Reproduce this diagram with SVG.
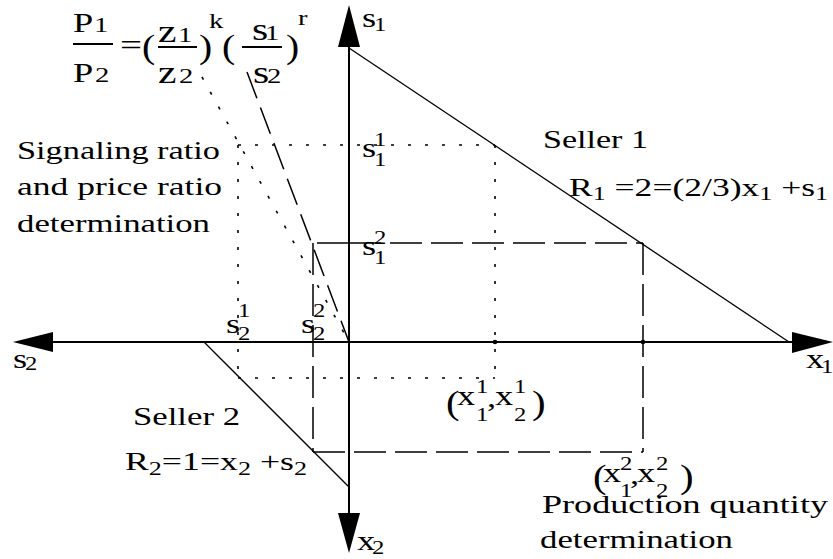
<svg xmlns="http://www.w3.org/2000/svg" width="833" height="559" viewBox="0 0 833 559">
<g id="connectors">
  <g stroke="#000" stroke-width="2" fill="none">
    <line x1="20" y1="342" x2="826" y2="342"/>
    <line x1="349" y1="12" x2="349" y2="548"/>
  </g>
  <g fill="#000">
    <polygon points="349,5 338,47 360,47"/>
    <polygon points="349,553 338,513 360,513"/>
    <polygon points="13,342 53,332 53,352"/>
    <polygon points="833,342 792,332 792,353"/>
    <circle cx="495" cy="342" r="2.3"/>
    <circle cx="643" cy="342" r="2.3"/>
  </g>
  <g stroke="#000" stroke-width="1.3" fill="none">
    <line x1="349" y1="48" x2="789" y2="342"/>
    <line x1="204" y1="342" x2="349" y2="487"/>
  </g>
  <g stroke="#000" stroke-width="1.6" fill="none" stroke-dasharray="3 14">
    <line x1="238" y1="145" x2="495" y2="145"/>
    <line x1="238" y1="378" x2="495" y2="378"/>
    <line x1="238" y1="145" x2="238" y2="378"/>
    <line x1="495" y1="145" x2="495" y2="378"/>
    <line x1="202" y1="77" x2="349" y2="342"/>
  </g>
  <g stroke="#000" stroke-width="1.5" fill="none" stroke-dasharray="32 9">
    <line x1="349" y1="243" x2="643" y2="243"/>
    <line x1="349" y1="243" x2="313" y2="243"/>
    <line x1="313" y1="452" x2="643" y2="452"/>
    <line x1="643" y1="243" x2="643" y2="452"/>
    <line x1="313" y1="243" x2="313" y2="452"/>
  </g>
  <line x1="247" y1="72" x2="349" y2="342" stroke="#000" stroke-width="1.5" stroke-dasharray="28 10"/>
</g>

<g id="formula" fill="#000">
  <text font-family="Liberation Serif" font-size="28" transform="matrix(1.3 0 0 1 73 32)">P</text>
  <text font-family="Liberation Serif" font-size="22" transform="matrix(1.3 0 0 1 94 32)">1</text>
  <line x1="73" y1="44" x2="113" y2="44" stroke="#000" stroke-width="2"/>
  <text font-family="Liberation Serif" font-size="28" transform="matrix(1.3 0 0 1 73 82)">P</text>
  <text font-family="Liberation Serif" font-size="22" transform="matrix(1.3 0 0 1 95 82)">2</text>
  <text font-family="Liberation Serif" font-size="30" transform="matrix(1.3 0 0 1 120 55)">=</text>
  <text font-family="Liberation Serif" font-size="33" transform="matrix(1.2 0 0 1 142 58)">(</text>
  <text font-family="Liberation Serif" font-size="32" transform="matrix(1.3 0 0 1 158 42)">z</text>
  <text font-family="Liberation Serif" font-size="22" transform="matrix(1.3 0 0 1 178 42)">1</text>
  <line x1="158" y1="47" x2="197" y2="47" stroke="#000" stroke-width="2"/>
  <text font-family="Liberation Serif" font-size="32" transform="matrix(1.3 0 0 1 158 83)">z</text>
  <text font-family="Liberation Serif" font-size="22" transform="matrix(1.3 0 0 1 179 83)">2</text>
  <text font-family="Liberation Serif" font-size="33" transform="matrix(1.2 0 0 1 199 58)">)</text>
  <text font-family="Liberation Serif" font-size="22" transform="matrix(1.3 0 0 1 209 28)">k</text>
  <text font-family="Liberation Serif" font-size="33" transform="matrix(1.2 0 0 1 222 58)">(</text>
  <text font-family="Liberation Serif" font-size="32" transform="matrix(1.3 0 0 1 252 40)">s</text>
  <text font-family="Liberation Serif" font-size="22" transform="matrix(1.3 0 0 1 265 40)">1</text>
  <line x1="242" y1="47" x2="282" y2="47" stroke="#000" stroke-width="2"/>
  <text font-family="Liberation Serif" font-size="32" transform="matrix(1.3 0 0 1 253 83)">s</text>
  <text font-family="Liberation Serif" font-size="22" transform="matrix(1.3 0 0 1 267 83)">2</text>
  <text font-family="Liberation Serif" font-size="33" transform="matrix(1.2 0 0 1 286 58)">)</text>
  <text font-family="Liberation Serif" font-size="22" transform="matrix(1.3 0 0 1 298 25)">r</text>
</g>

<g id="axis-labels" fill="#000">
  <text font-family="Liberation Serif" font-size="28" transform="matrix(1.3 0 0 1 362 27)">s</text>
  <text font-family="Liberation Serif" font-size="19" transform="matrix(1.3 0 0 1 374 31)">1</text>
  <text font-family="Liberation Serif" font-size="28" transform="matrix(1.3 0 0 1 13 368)">s</text>
  <text font-family="Liberation Serif" font-size="19" transform="matrix(1.3 0 0 1 25 370)">2</text>
  <text font-family="Liberation Serif" font-size="28" transform="matrix(1.3 0 0 1 806 368)">x</text>
  <text font-family="Liberation Serif" font-size="19" transform="matrix(1.3 0 0 1 821 373)">1</text>
  <text font-family="Liberation Serif" font-size="28" transform="matrix(1.3 0 0 1 357 550)">x</text>
  <text font-family="Liberation Serif" font-size="19" transform="matrix(1.3 0 0 1 372 554)">2</text>
</g>

<g id="point-labels" fill="#000">
  <text font-family="Liberation Serif" font-size="28" transform="matrix(1.3 0 0 1 362 157)">s</text>
  <text font-family="Liberation Serif" font-size="19" transform="matrix(1.3 0 0 1 374 146)">1</text>
  <text font-family="Liberation Serif" font-size="19" transform="matrix(1.3 0 0 1 374 166)">1</text>
  <text font-family="Liberation Serif" font-size="28" transform="matrix(1.3 0 0 1 362 255)">s</text>
  <text font-family="Liberation Serif" font-size="19" transform="matrix(1.3 0 0 1 374 244)">2</text>
  <text font-family="Liberation Serif" font-size="19" transform="matrix(1.3 0 0 1 374 264)">1</text>
  <text font-family="Liberation Serif" font-size="28" transform="matrix(1.3 0 0 1 226 333)">s</text>
  <text font-family="Liberation Serif" font-size="19" transform="matrix(1.3 0 0 1 238 317)">1</text>
  <text font-family="Liberation Serif" font-size="19" transform="matrix(1.3 0 0 1 238 340)">2</text>
  <text font-family="Liberation Serif" font-size="28" transform="matrix(1.3 0 0 1 301 333)">s</text>
  <text font-family="Liberation Serif" font-size="19" transform="matrix(1.3 0 0 1 313 317)">2</text>
  <text font-family="Liberation Serif" font-size="19" transform="matrix(1.3 0 0 1 313 340)">2</text>
</g>

<g id="point1" fill="#000">
  <text font-family="Liberation Serif" font-size="34" transform="matrix(1.2 0 0 1 446 414)">(</text>
  <text font-family="Liberation Serif" font-size="28" transform="matrix(1.3 0 0 1 457 405)">x</text>
  <text font-family="Liberation Serif" font-size="19" transform="matrix(1.3 0 0 1 476 393)">1</text>
  <text font-family="Liberation Serif" font-size="19" transform="matrix(1.3 0 0 1 476 421)">1</text>
  <text font-family="Liberation Serif" font-size="28" transform="matrix(1.3 0 0 1 487 407)">,</text>
  <text font-family="Liberation Serif" font-size="28" transform="matrix(1.3 0 0 1 495 405)">x</text>
  <text font-family="Liberation Serif" font-size="19" transform="matrix(1.3 0 0 1 514 393)">1</text>
  <text font-family="Liberation Serif" font-size="19" transform="matrix(1.3 0 0 1 514 421)">2</text>
  <text font-family="Liberation Serif" font-size="34" transform="matrix(1.2 0 0 1 532 414)">)</text>
</g>

<g id="point2" fill="#000">
  <text font-family="Liberation Serif" font-size="34" transform="matrix(1.2 0 0 1 593 488)">(</text>
  <text font-family="Liberation Serif" font-size="28" transform="matrix(1.3 0 0 1 603 482)">x</text>
  <text font-family="Liberation Serif" font-size="19" transform="matrix(1.3 0 0 1 620 470)">2</text>
  <text font-family="Liberation Serif" font-size="19" transform="matrix(1.3 0 0 1 620 497)">1</text>
  <text font-family="Liberation Serif" font-size="28" transform="matrix(1.3 0 0 1 630 484)">,</text>
  <text font-family="Liberation Serif" font-size="28" transform="matrix(1.3 0 0 1 637 482)">x</text>
  <text font-family="Liberation Serif" font-size="19" transform="matrix(1.3 0 0 1 656 470)">2</text>
  <text font-family="Liberation Serif" font-size="19" transform="matrix(1.3 0 0 1 656 497)">2</text>
  <text font-family="Liberation Serif" font-size="34" transform="matrix(1.2 0 0 1 680 488)">)</text>
</g>

<g id="seller1" fill="#000">
  <text font-family="Liberation Serif" font-size="25" x="543" y="148" textLength="105" lengthAdjust="spacingAndGlyphs">Seller 1</text>
  <text font-family="Liberation Serif" font-size="26" x="569" y="196" textLength="259" lengthAdjust="spacingAndGlyphs">R<tspan font-size="19" dy="4">1</tspan><tspan dy="-4"> =2=(2/3)x</tspan><tspan font-size="19" dy="4">1</tspan><tspan dy="-4"> +s</tspan><tspan font-size="19" dy="4">1</tspan></text>
</g>

<g id="seller2" fill="#000">
  <text font-family="Liberation Serif" font-size="25" x="133" y="425" textLength="107" lengthAdjust="spacingAndGlyphs">Seller 2</text>
  <text font-family="Liberation Serif" font-size="26" x="125" y="470" textLength="182" lengthAdjust="spacingAndGlyphs">R<tspan font-size="19" dy="5">2</tspan><tspan dy="-5">=1=x</tspan><tspan font-size="19" dy="5">2</tspan><tspan dy="-5"> +s</tspan><tspan font-size="19" dy="5">2</tspan></text>
</g>

<g id="signaling-note" fill="#000">
  <text font-family="Liberation Serif" font-size="25" x="17" y="159" textLength="203" lengthAdjust="spacingAndGlyphs">Signaling ratio</text>
  <text font-family="Liberation Serif" font-size="25" x="17" y="195" textLength="205" lengthAdjust="spacingAndGlyphs">and price ratio</text>
  <text font-family="Liberation Serif" font-size="25" x="17" y="232" textLength="193" lengthAdjust="spacingAndGlyphs">determination</text>
</g>

<g id="production-note" fill="#000">
  <text font-family="Liberation Serif" font-size="25" x="542" y="513" textLength="286" lengthAdjust="spacingAndGlyphs">Production quantity</text>
  <text font-family="Liberation Serif" font-size="25" x="540" y="548" textLength="193" lengthAdjust="spacingAndGlyphs">determination</text>
</g>
</svg>
